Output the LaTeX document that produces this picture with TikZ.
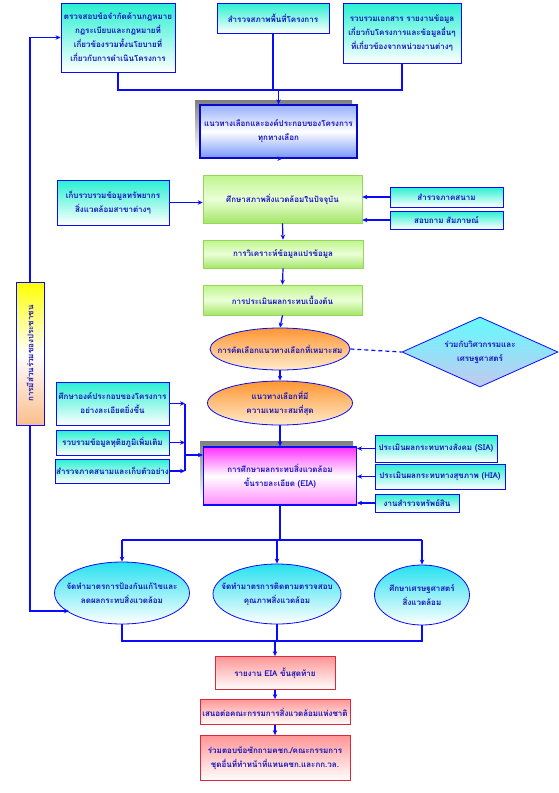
\documentclass[tikz,border=0pt]{standalone}
\usepackage{fontspec}
\newfontfamily\thai[Script=Thai]{Loma}
\usetikzlibrary{shapes.geometric,arrows.meta,calc}
\definecolor{tblue}{RGB}{20,20,190}
\definecolor{lblue}{RGB}{10,10,255}
\definecolor{cyantop}{RGB}{40,240,210}
\definecolor{gtop}{RGB}{190,245,140}
\definecolor{gmid}{RGB}{235,255,215}
\definecolor{gbot}{RGB}{165,230,105}
\definecolor{gdraw}{RGB}{150,215,90}
\definecolor{btop}{RGB}{150,175,255}
\definecolor{bbot}{RGB}{120,150,250}
\definecolor{otop}{RGB}{255,150,50}
\definecolor{obot}{RGB}{255,235,205}
\definecolor{mtop}{RGB}{255,50,255}
\definecolor{mbot}{RGB}{255,140,255}
\definecolor{ytop}{RGB}{255,255,0}
\definecolor{ybot}{RGB}{250,190,140}
\definecolor{ptop}{RGB}{255,150,150}
\definecolor{pdraw}{RGB}{220,40,60}
\definecolor{dtop}{RGB}{100,250,255}
\definecolor{dbot}{RGB}{195,200,240}
\definecolor{etop}{RGB}{40,225,240}
\definecolor{shade}{RGB}{140,140,140}
\tikzset{
  txt/.style={font=\thai\bfseries\fontsize{8}{14}\selectfont, text=tblue, align=center, inner sep=1pt},
  cbox/.style={txt, rectangle, draw=lblue, line width=0.9pt, top color=cyantop, bottom color=white},
  gbox/.style={txt, rectangle, draw=gdraw, line width=0.6pt, top color=gtop, bottom color=gbot, middle color=gmid},
  bbox/.style={txt, rectangle, draw=lblue!80!black, line width=1.2pt, top color=btop, bottom color=bbot, middle color=white},
  mbox/.style={txt, rectangle, draw=lblue, line width=1.2pt, top color=mtop, bottom color=mbot, middle color=white},
  pbox/.style={txt, rectangle, draw=pdraw, line width=0.8pt, top color=ptop, bottom color=white},
  oell/.style={ellipse, draw=lblue, line width=0.8pt, top color=otop, bottom color=obot, inner sep=0pt},
  cell/.style={ellipse, draw=lblue, line width=0.8pt, top color=etop, bottom color=white, inner sep=0pt},
  ybar/.style={rectangle, draw=lblue, line width=0.9pt, top color=ytop, bottom color=ybot, middle color=white},
  dia/.style={diamond, draw=lblue, line width=0.8pt, top color=dtop, bottom color=dbot, inner sep=0pt},
  ln/.style={draw=lblue, line width=1.2pt},
  arr/.style={ln, -{Stealth[length=5pt,width=4.5pt]}},
  dashln/.style={draw=lblue, line width=1.2pt, dash pattern=on 4pt off 3pt},
}
\begin{document}
\begin{tikzpicture}[x=1pt,y=-1pt]
\useasboundingbox (0,0) rectangle (558,793);
\fill[white] (0,0) rectangle (558,793);

% top boxes
\node[cbox, minimum width=114pt, minimum height=69pt] (A) at (118,37.5)
  {ตรวจสอบข้อจำกัดด้านกฎหมาย\\กฎระเบียบและกฎหมายที่\\เกี่ยวข้องรวมทั้งนโยบายที่\\เกี่ยวกับการดำเนินโครงการ};
\node[cbox, minimum width=112pt, minimum height=30pt] (B) at (273,18)
  {สำรวจสภาพพื้นที่โครงการ};
\node[cbox, minimum width=118pt, minimum height=60pt] (C) at (402,33)
  {รวบรวมเอกสาร รายงานข้อมูล\\เกี่ยวกับโครงการและข้อมูลอื่นๆ\\ที่เกี่ยวข้องจากหน่วยงานต่างๆ};

% D with shadow
\fill[shade] (195,100) rectangle (352,153);
\node[bbox, minimum width=157pt, minimum height=53pt] (D) at (278.5,131.5)
  {แนวทางเลือกและองค์ประกอบของโครงการ\\ทุกทางเลือก};

\node[gbox, minimum width=159pt, minimum height=48pt] (E) at (282.5,199)
  {ศึกษาสภาพสิ่งแวดล้อมในปัจจุบัน};
\node[cbox, minimum width=112pt, minimum height=45pt] (F) at (113,202.5)
  {เก็บรวบรวมข้อมูลทรัพยากร\\สิ่งแวดล้อมสาขาต่างๆ};
\node[cbox, minimum width=113pt, minimum height=20pt] (G) at (446.5,197)
  {สำรวจภาคสนาม};
\node[cbox, minimum width=113pt, minimum height=18pt] (H) at (446.5,220)
  {สอบถาม สัมภาษณ์};

\node[gbox, minimum width=160pt, minimum height=28pt] (I) at (283,254)
  {การวิเคราะห์ข้อมูลแปรข้อมูล};
\node[gbox, minimum width=159pt, minimum height=30pt] (J) at (282.5,300)
  {การประเมินผลกระทบเบื้องต้น};

\node[oell, minimum width=140pt, minimum height=42pt] (K) at (280,349) {};
\node[txt] (Kt) at (K.center) {การคัดเลือกแนวทางเลือกที่เหมาะสม};
\node[dia, minimum width=156pt, minimum height=70pt] (L) at (480,352) {};
\node[txt] (Lt) at (L.center) {ร่วมกับวิศวกรรมและ\\เศรษฐศาสตร์};
\node[oell, minimum width=145pt, minimum height=44pt] (M) at (280,403) {};
\node[txt] (Mt) at (M.center) {แนวทางเลือกที่มี\\ความเหมาะสมที่สุด};

\node[cbox, minimum width=113pt, minimum height=43pt] (N) at (112.5,403.5)
  {ศึกษาองค์ประกอบของโครงการ\\อย่างละเอียดยิ่งขึ้น};
\node[cbox, minimum width=113pt, minimum height=25pt] (O) at (112.5,442.5)
  {รวบรวมข้อมูลทุติยภูมิเพิ่มเติม};
\node[cbox, minimum width=113pt, minimum height=24pt] (P) at (112.5,471)
  {สำรวจภาคสนามและเก็บตัวอย่าง};

\fill[shade] (200,441) rectangle (353,499);
\node[mbox, minimum width=153pt, minimum height=58pt] (Q) at (280,476)
  {การศึกษาผลกระทบสิ่งแวดล้อม\\ขั้นรายละเอียด (EIA)};

\node[cbox, minimum width=122pt, minimum height=27pt] (R) at (436,448.5)
  {ประเมินผลกระทบทางสังคม (SIA)};
\node[cbox, minimum width=130pt, minimum height=25pt] (S) at (440,476.5)
  {ประเมินผลกระทบทางสุขภาพ (HIA)};
\node[cbox, minimum width=84pt, minimum height=18pt] (T) at (417,503)
  {งานสำรวจทรัพย์สิน};

\node[ybar, minimum width=28pt, minimum height=143pt] (bar) at (30,353.5) {};
\node[txt, rotate=90] (barT) at (bar.center) {การมีส่วนร่วมของประชาชน};

\coordinate (pin) at (67,611);
\draw[ln] (bar.south) |- (pin);

\node[cell, minimum width=135pt, minimum height=62pt] (U) at (122,593) {};
\node[txt] (Ut) at (U.center) {จัดทำมาตรการป้องกันแก้ไขและ\\ลดผลกระทบสิ่งแวดล้อม};
\node[cell, minimum width=128pt, minimum height=60pt] (V) at (277,594) {};
\node[txt] (Vt) at (V.center) {จัดทำมาตรการติดตามตรวจสอบ\\คุณภาพสิ่งแวดล้อม};
\node[cell, minimum width=95pt, minimum height=60pt] (W) at (422,595) {};
\node[txt] (Wt) at (W.center) {ศึกษาเศรษฐศาสตร์\\สิ่งแวดล้อม};

\node[pbox, minimum width=120pt, minimum height=33pt] (X) at (275,673)
  {รายงาน EIA ขั้นสุดท้าย};
\node[pbox, minimum width=150pt, minimum height=25pt] (Y) at (275,712)
  {เสนอต่อคณะกรรมการสิ่งแวดล้อมแห่งชาติ};
\node[pbox, minimum width=150pt, minimum height=45pt] (Z) at (275,758)
  {ร่วมตอบข้อซักถามคชก./คณะกรรมการ\\ชุดอื่นที่ทำหน้าที่แทนคชก.และกก.วล.};

% connectors
\coordinate (j1) at (278.5,90);
\draw[ln] (A.south) |- (C.south |- j1) -- (C.south);
\draw[ln] (B.south) -- (B.south |- j1);
\draw[arr] (j1) -- (D.north);
\draw[arr] (D.south) -- (D.south -| E.north);
\draw[arr] (F.east) -- (F.east -| E.west);
\draw[arr] (G.west) -- (G.west -| E.east);
\draw[arr] (H.west) -- (H.west -| E.east);
\draw[arr] (E.south) -- (I.north);
\draw[arr] (I.south) -- (J.north);
\draw[arr] (J.south) -- (K.north);
\draw[dashln] (K.east) -- (L.west);
\draw[arr] (K.south) -- (M.north);
\draw[arr] (M.south) -- (Q.north);

\coordinate (brk) at (185,455);
\draw[arr] (N.east) -- (N.east -| brk);
\draw[arr] (O.east) -- (O.east -| brk);
\draw[arr] (P.east) -- (P.east -| brk);
\draw[ln] (N.east -| brk) -- (P.east -| brk);
\draw[arr] (brk) -- (brk -| Q.west);

\draw[arr] (R.west) -- (R.west -| Q.east);
\draw[arr] (S.west) -- (S.west -| Q.east);
\draw[arr] (T.west) -- (T.west -| Q.east);

\coordinate (j2) at (275,540);
\draw[ln] (Q.south) -- (Q.south |- j2);
\draw[ln] (U.north |- j2) -- (W.north |- j2);
\draw[arr] (U.north |- j2) -- (U.north);
\draw[arr] (V.north |- j2) -- (V.north);
\draw[arr] (W.north |- j2) -- (W.north);

\coordinate (j3) at (275,641);
\draw[ln] (U.south) |- (j3);
\draw[ln] (W.south) |- (j3);
\draw[ln] (V.south) -- (V.south |- j3);
\draw[arr] (j3) -- (X.north);
\draw[arr] (X.south) -- (Y.north);
\draw[arr] (Y.south) -- (Z.north);

\draw[arr] (bar.north) |- (A.west);
\draw[arr] (pin) -- ++(2,0);
\end{tikzpicture}
\end{document}
